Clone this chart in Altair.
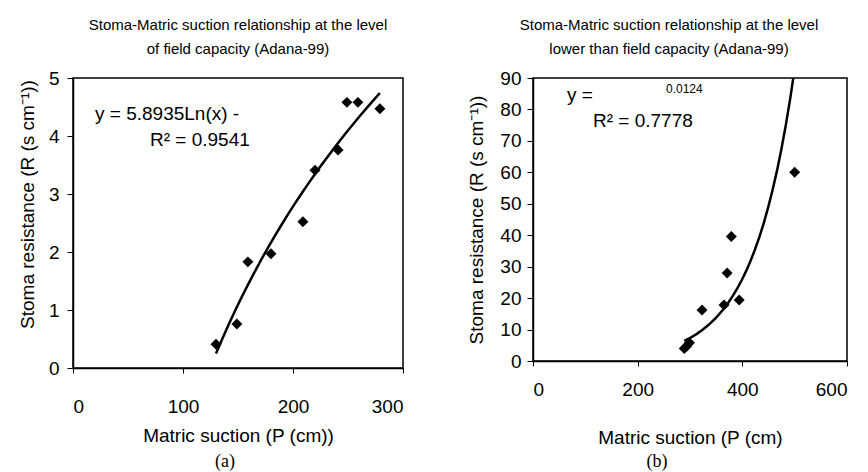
import altair as alt
import pandas as pd

# ---------------- data ----------------
# Panel (a): field capacity
a_suction = [130, 149, 159, 180, 209, 220, 241, 249, 259, 279]
a_resist = [0.41, 0.76, 1.83, 1.97, 2.52, 3.41, 3.76, 4.58, 4.58, 4.47]
# Panel (b): lower than field capacity
b_suction = [289, 294, 299, 323, 365, 371, 379, 394, 500]
b_resist = [4.0, 4.8, 5.8, 16.2, 17.8, 28.0, 39.6, 19.4, 60.0]

a_x_ticks = [0, 100, 200, 300]
a_y_ticks = [0, 1, 2, 3, 4, 5]
b_x_ticks = [0, 200, 400, 600]
b_y_ticks = [0, 10, 20, 30, 40, 50, 60, 70, 80, 90]

a_title = ["Stoma-Matric suction relationship at the level", "of field capacity (Adana-99)"]
b_title = ["Stoma-Matric suction relationship at the level", "lower than field capacity (Adana-99)"]
y_title = "Stoma resistance (R (s cm\u207b\u00b9))"
a_x_title = "Matric suction (P (cm))"
b_x_title = "Matric suction (P (cm)"
a_eq = ["y = 5.8935Ln(x) -", "R\u00b2 = 0.9541"]
b_eq = ["y =", "0.0124", "R\u00b2 = 0.7778"]
panel_labels = ["(a)", "(b)"]

FONT = "Liberation Sans"
SERIF = "Liberation Serif"
FS = 19


def note(text, x, y, size=FS, font=FONT, align="left"):
    return alt.Chart(pd.DataFrame({"t": [text]})).mark_text(
        align=align, baseline="middle", font=font, fontSize=size, color="black"
    ).encode(text="t:N", x=alt.value(x), y=alt.value(y))


# ---------------- panel (a) ----------------
da = pd.DataFrame({"P": a_suction, "R": a_resist})
xa = alt.X("P:Q", scale=alt.Scale(domain=[0, 300], nice=False),
           axis=alt.Axis(values=a_x_ticks, title=a_x_title, tickSize=5, format="d",
                         labelPadding=24, titlePadding=10, labelOverlap=False))
ya = alt.Y("R:Q", scale=alt.Scale(domain=[0, 5], nice=False),
           axis=alt.Axis(values=a_y_ticks, title=y_title, tickSize=6, format="d",
                         labelPadding=8, titlePadding=11, titleY=126, labelOverlap=False))
pts_a = alt.Chart(da).mark_point(shape="diamond", filled=True, size=120,
                                 color="black", opacity=1).encode(x=xa, y=ya)
fit_a = alt.Chart(da).transform_regression("P", "R", method="log").mark_line(
    color="black", strokeWidth=2.5, clip=True).encode(x=xa, y=ya)

panel_a = alt.layer(
    pts_a, fit_a,
    note(a_eq[0], 22, 36), note(a_eq[1], 77, 62),
    note(panel_labels[0], 152, 384, size=18, font=SERIF, align="center"),
).properties(
    width=330, height=290,
    title=alt.TitleParams(a_title, font=FONT, fontSize=15, fontWeight="normal",
                          lineHeight=24, offset=12, anchor="middle", color="black"),
)

# ---------------- panel (b) ----------------
db = pd.DataFrame({"P": b_suction, "R": b_resist})
xb = alt.X("P:Q", scale=alt.Scale(domain=[0, 600], nice=False),
           axis=alt.Axis(values=b_x_ticks, title=b_x_title, tickSize=5, format="d",
                         labelPadding=14, titlePadding=29, labelOverlap=False))
yb = alt.Y("R:Q", scale=alt.Scale(domain=[0, 90], nice=False),
           axis=alt.Axis(values=b_y_ticks, title=y_title, tickSize=6, format="d",
                         labelPadding=6, titlePadding=13, labelOverlap=False))
pts_b = alt.Chart(db).mark_point(shape="diamond", filled=True, size=120,
                                 color="black", opacity=1).encode(x=xb, y=yb)
# exponential trend line: straight-line fit of ln(R), then back-transformed
fit_b = (alt.Chart(db)
         .transform_calculate(lr="log(datum.R)")
         .transform_regression("P", "lr", method="poly", order=1)
         .transform_calculate(R="exp(datum.lr)")
         .mark_line(color="black", strokeWidth=2.5, clip=True)
         .encode(x=xb, y=yb))

panel_b = alt.layer(
    pts_b, fit_b,
    note(b_eq[0], 34, 17), note(b_eq[1], 133, 11, size=12), note(b_eq[2], 60, 43),
    note(panel_labels[1], 124, 384, size=18, font=SERIF, align="center"),
).properties(
    width=314, height=283,
    title=alt.TitleParams(b_title, font=FONT, fontSize=15, fontWeight="normal",
                          lineHeight=24, offset=12, anchor="middle", dx=-21, color="black"),
)

chart = alt.hconcat(panel_a, panel_b, spacing=62).properties(
    padding={"left": 9, "top": 9, "right": 0, "bottom": 0},
    background="white",
).configure_view(
    stroke="black", strokeWidth=1.5
).configure_axis(
    grid=False, domainColor="black", domainWidth=1.5, tickColor="black", tickWidth=1,
    labelColor="black", titleColor="black", labelFont=FONT, titleFont=FONT,
    labelFontSize=FS, titleFontSize=FS, titleFontWeight="normal",
)

chart.save("out.html", embed_options={"renderer": "svg", "actions": False})
